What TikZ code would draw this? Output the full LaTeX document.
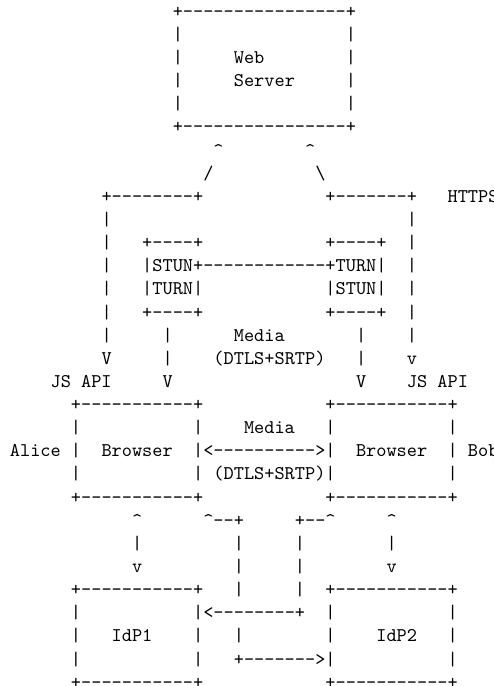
\documentclass[tikz,border=0pt]{standalone}
\usepackage{fontspec}
\setmonofont{lmmono10-regular.otf}
\newcount\dcnt
\newcommand\spx[1]{\hspace*{#1\fontcharwd\font45}}
\newcommand\dsx[1]{\dcnt=0\relax\loop\ifnum\dcnt<#1\relax -\kern0pt\advance\dcnt by 1\relax\repeat}
\tikzset{asc/.style={anchor=base west, inner sep=0pt, outer sep=0pt, text=black,
  font=\fontsize{19.39}{23}\selectfont\ttfamily}}
\begin{document}
\begin{tikzpicture}[x=1pt,y=1pt]
\useasboundingbox (0,0) rectangle (494,686);
\clip (0,0) rectangle (494,686);
\def\rx{9.9}
\def\ry#1{686-17.2-#1*23.14}
\node[asc] (r0)  at (\rx,{\ry{0}})  {\spx{16}+\dsx{16}+};
\node[asc] (r1)  at (\rx,{\ry{1}})  {\spx{16}|\spx{16}|};
\node[asc] (r2)  at (\rx,{\ry{2}})  {\spx{16}|\spx{5}Web\spx{8}|};
\node[asc] (r3)  at (\rx,{\ry{3}})  {\spx{16}|\spx{5}Server\spx{5}|};
\node[asc] (r4)  at (\rx,{\ry{4}})  {\spx{16}|\spx{16}|};
\node[asc] (r5)  at (\rx,{\ry{5}})  {\spx{16}+\dsx{16}+};
\node[asc] (r6)  at (\rx,{\ry{6}})  {\spx{20}\textasciicircum\spx{8}\textasciicircum};
\node[asc] (r7)  at (\rx,{\ry{7}})  {\spx{19}/\spx{10}\textbackslash};
\node[asc] (r8)  at (\rx,{\ry{8}})  {\spx{9}+\dsx{8}+\spx{12}+\dsx{7}+\spx{3}HTTPS};
\node[asc] (r9)  at (\rx,{\ry{9}})  {\spx{9}|\spx{29}|};
\node[asc] (r10) at (\rx,{\ry{10}}) {\spx{9}|\spx{3}+\dsx{4}+\spx{12}+\dsx{4}+\spx{2}|};
\node[asc] (r11) at (\rx,{\ry{11}}) {\spx{9}|\spx{3}|STUN+\dsx{12}+TURN|\spx{2}|};
\node[asc] (r12) at (\rx,{\ry{12}}) {\spx{9}|\spx{3}|TURN|\spx{12}|STUN|\spx{2}|};
\node[asc] (r13) at (\rx,{\ry{13}}) {\spx{9}|\spx{3}+\dsx{4}+\spx{12}+\dsx{4}+\spx{2}|};
\node[asc] (r14) at (\rx,{\ry{14}}) {\spx{9}|\spx{5}|\spx{6}Media\spx{7}|\spx{4}|};
\node[asc] (r15) at (\rx,{\ry{15}}) {\spx{9}V\spx{5}|\spx{4}(DTLS+SRTP)\spx{3}|\spx{4}v};
\node[asc] (r16) at (\rx,{\ry{16}}) {\spx{4}JS\spx{1}API\spx{5}V\spx{18}V\spx{4}JS\spx{1}API};
\node[asc] (r17) at (\rx,{\ry{17}}) {\spx{6}+\dsx{11}+\spx{12}+\dsx{11}+};
\node[asc] (r18) at (\rx,{\ry{18}}) {\spx{6}|\spx{11}|\spx{4}Media\spx{3}|\spx{11}|};
\node[asc] (r19) at (\rx,{\ry{19}}) {Alice\spx{1}|\spx{2}Browser\spx{2}|<\dsx{10}>|\spx{2}Browser\spx{2}|\spx{1}Bob};
\node[asc] (r20) at (\rx,{\ry{20}}) {\spx{6}|\spx{11}|\spx{1}(DTLS+SRTP)|\spx{11}|};
\node[asc] (r21) at (\rx,{\ry{21}}) {\spx{6}+\dsx{11}+\spx{12}+\dsx{11}+};
\node[asc] (r22) at (\rx,{\ry{22}}) {\spx{12}\textasciicircum\spx{6}\textasciicircum\dsx{2}+\spx{5}+\dsx{2}\textasciicircum\spx{5}\textasciicircum};
\node[asc] (r23) at (\rx,{\ry{23}}) {\spx{12}|\spx{9}|\spx{5}|\spx{8}|};
\node[asc] (r24) at (\rx,{\ry{24}}) {\spx{12}v\spx{9}|\spx{5}|\spx{8}v};
\node[asc] (r25) at (\rx,{\ry{25}}) {\spx{6}+\dsx{11}+\spx{3}|\spx{5}|\spx{2}+\dsx{11}+};
\node[asc] (r26) at (\rx,{\ry{26}}) {\spx{6}|\spx{11}|<\dsx{8}+\spx{2}|\spx{11}|};
\node[asc] (r27) at (\rx,{\ry{27}}) {\spx{6}|\spx{3}IdP1\spx{4}|\spx{3}|\spx{8}|\spx{4}IdP2\spx{3}|};
\node[asc] (r28) at (\rx,{\ry{28}}) {\spx{6}|\spx{11}|\spx{3}+\dsx{7}>|\spx{11}|};
\node[asc] (r29) at (\rx,{\ry{29}}) {\spx{6}+\dsx{11}+\spx{12}+\dsx{11}+};
\end{tikzpicture}
\end{document}
